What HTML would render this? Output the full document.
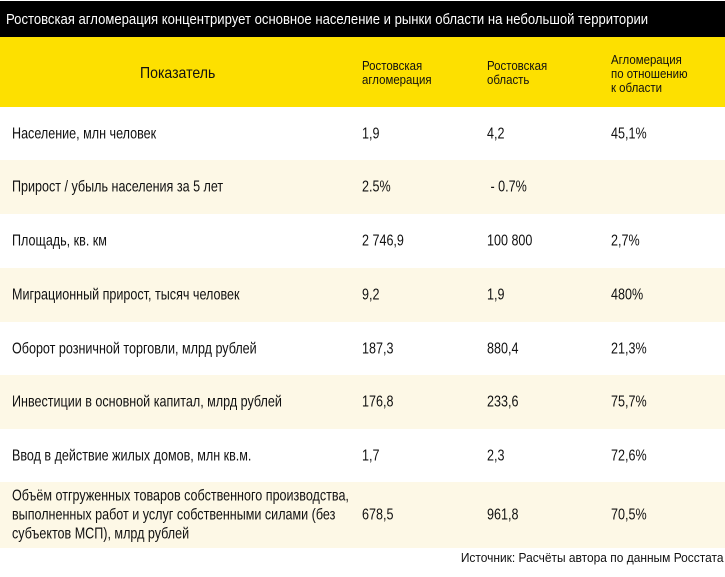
<!DOCTYPE html>
<html><head><meta charset="utf-8"><style>
*{margin:0;padding:0;box-sizing:border-box}
body{width:725px;height:577px;background:#fff;font-family:"Liberation Sans Narrow","Liberation Sans",sans-serif;color:#111;position:relative;overflow:hidden}
.title{position:absolute;left:0;top:1px;width:725px;height:36px;background:#000;color:#fff}
.title span{position:absolute;left:6px;top:0;font-size:15px;line-height:38px;white-space:nowrap;transform:scaleX(0.873);transform-origin:left center}
.head{position:absolute;left:0;top:37px;width:725px;height:70px;background:#fde000}
.head div{position:absolute;font-size:13px;line-height:14px;transform:scaleX(0.88);transform-origin:left top;white-space:nowrap}
.row{position:absolute;left:0;width:725px}
.row div{position:absolute;font-size:16px;top:50%;transform:translateY(-50%) scaleX(0.785);transform-origin:left center;line-height:19px;white-space:nowrap}
.beige{background:#fdf8e6}
.src{position:absolute;right:2px;top:550px;font-size:13px;transform:scaleX(0.92);transform-origin:right center;white-space:nowrap}
</style></head><body>
<div class="title"><span>Ростовская агломерация концентрирует основное население и рынки области на небольшой территории</span></div>
<div class="head">
<div style="left:140px;top:28px;font-size:16px;line-height:18px">Показатель</div>
<div style="left:362px;top:22px">Ростовская<br>агломерация</div>
<div style="left:487px;top:22px">Ростовская<br>область</div>
<div style="left:611px;top:16px">Агломерация<br>по отношению<br>к области</div>
</div>
<div id="rows"></div>
<div class="src">Источник: Расчёты автора по данным Росстата</div>
<script>
const labels=["Население, млн человек","Прирост / убыль населения за 5 лет","Площадь, кв. км","Миграционный прирост, тысяч человек","Оборот розничной торговли, млрд рублей","Инвестиции в основной капитал, млрд рублей","Ввод в действие жилых домов, млн кв.м.","Объём отгруженных товаров собственного производства,<br>выполненных работ и услуг собственными силами (без<br>субъектов МСП), млрд рублей"];
const aggl=["1,9","2.5%","2 746,9","9,2","187,3","176,8","1,7","678,5"];
const region=["4,2","&nbsp;- 0.7%","100 800","1,9","880,4","233,6","2,3","961,8"];
const ratio=["45,1%","","2,7%","480%","21,3%","75,7%","72,6%","70,5%"];
const tops=[107,160,214,268,322,375,429,482];
const heights=[53,54,54,54,53,54,53,66];
const c=document.getElementById('rows');
labels.forEach((l,i)=>{
 const r=document.createElement('div');
 r.className='row'+(i%2?' beige':'');
 r.style.top=tops[i]+'px';r.style.height=heights[i]+'px';
 
 
 r.innerHTML=`<div style="left:12px">${l}</div><div style="left:362px">${aggl[i]}</div><div style="left:487px">${region[i]}</div><div style="left:611px">${ratio[i]}</div>`;
 c.appendChild(r);
});
</script>
</body></html>
